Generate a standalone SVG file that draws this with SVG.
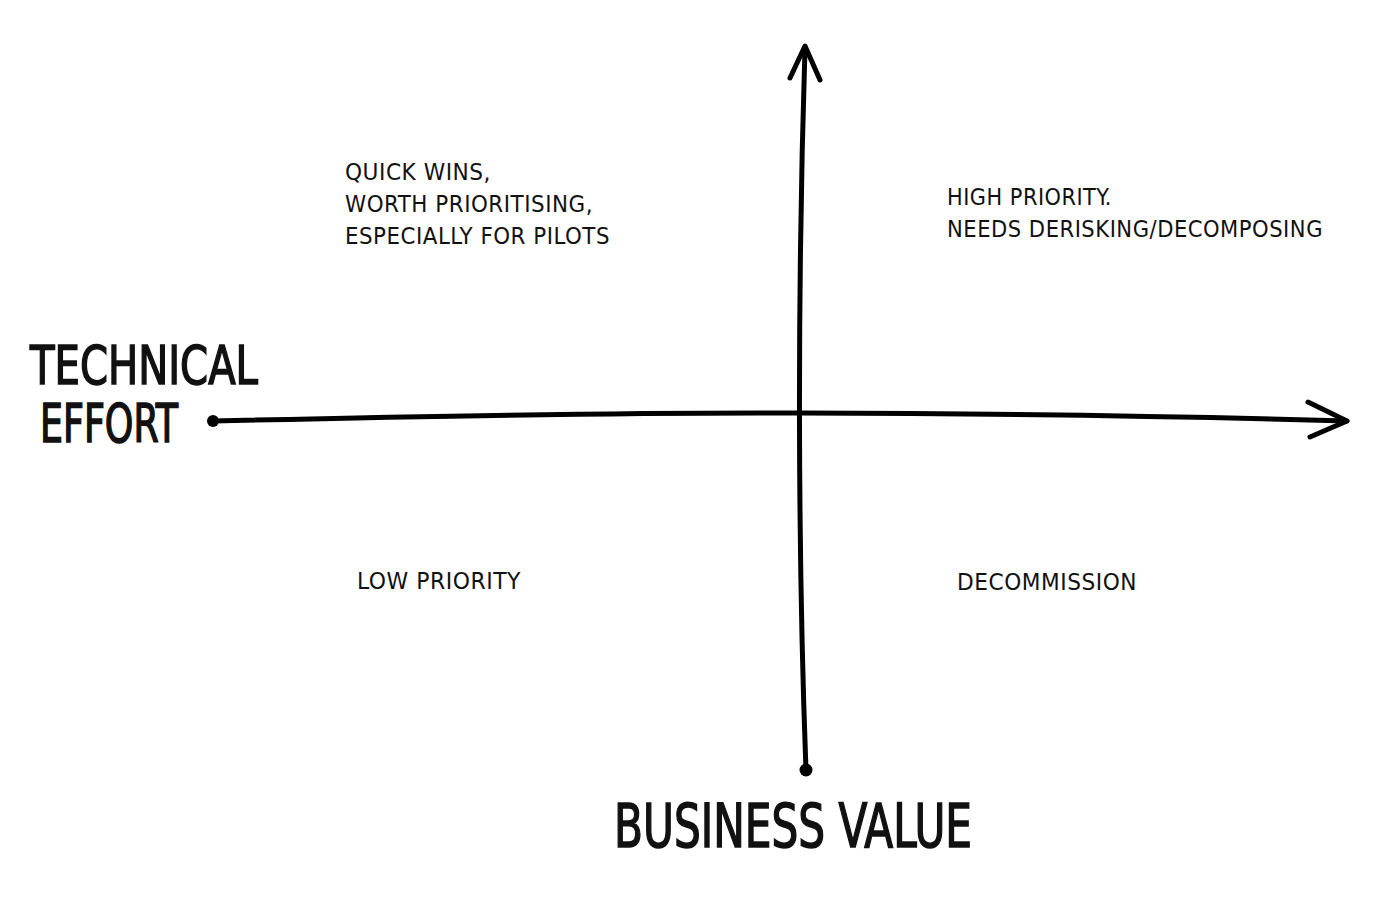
<svg xmlns="http://www.w3.org/2000/svg" width="1400" height="902" viewBox="0 0 1400 902">
<style>
.lbl{font-family:"Liberation Sans Narrow","DejaVu Sans Condensed","Liberation Sans",sans-serif;font-size:23px;fill:#111;letter-spacing:0.5px}
.big{font-family:"Liberation Sans Narrow","DejaVu Sans Condensed","Liberation Sans",sans-serif;font-size:54px;fill:#111;stroke:#111;stroke-width:1.5}
.ax{fill:none;stroke:#000;stroke-width:5;stroke-linecap:round;stroke-linejoin:round}
</style>
<rect width="1400" height="902" fill="#fff"/>
<g id="connectors">
<path class="ax" d="M213,421 Q600,412 800,413 Q1100,414 1347,421"/>
<path class="ax" d="M1308,402 L1347,421 L1310,437"/>
<circle cx="213" cy="421" r="6" fill="#000"/>
<path class="ax" d="M806,770 C798,560 797,300 805,48"/>
<path class="ax" d="M790,78 L805,46 L820,80"/>
<circle cx="806" cy="770" r="6.5" fill="#000"/>
</g>
<g id="quick-wins">
<text class="lbl" x="345" y="180" textLength="146" lengthAdjust="spacingAndGlyphs">QUICK WINS,</text>
<text class="lbl" x="345" y="212" textLength="248" lengthAdjust="spacingAndGlyphs">WORTH PRIORITISING,</text>
<text class="lbl" x="345" y="244" textLength="265" lengthAdjust="spacingAndGlyphs">ESPECIALLY FOR PILOTS</text>
</g>
<g id="high-priority">
<text class="lbl" x="947" y="205" textLength="165" lengthAdjust="spacingAndGlyphs">HIGH PRIORITY.</text>
<text class="lbl" x="947" y="237" textLength="376" lengthAdjust="spacingAndGlyphs">NEEDS DERISKING/DECOMPOSING</text>
</g>
<g id="low-priority">
<text class="lbl" x="357" y="589" textLength="164" lengthAdjust="spacingAndGlyphs">LOW PRIORITY</text>
</g>
<g id="decommission">
<text class="lbl" x="957" y="590" textLength="180" lengthAdjust="spacingAndGlyphs">DECOMMISSION</text>
</g>
<g id="technical-effort">
<text class="big" x="30" y="384" textLength="228" lengthAdjust="spacingAndGlyphs">TECHNICAL</text>
<text class="big" x="40" y="442" textLength="138" lengthAdjust="spacingAndGlyphs">EFFORT</text>
</g>
<g id="business-value">
<text class="big" x="614" y="847" style="font-size:60px" textLength="358" lengthAdjust="spacingAndGlyphs">BUSINESS VALUE</text>
</g>
</svg>
